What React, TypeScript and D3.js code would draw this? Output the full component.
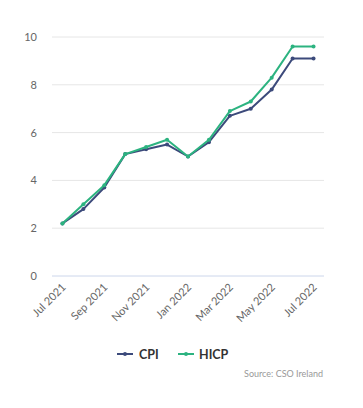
import React from 'react';
import * as d3 from 'd3';

const months = ['Jul 2021', 'Aug 2021', 'Sep 2021', 'Oct 2021', 'Nov 2021', 'Dec 2021', 'Jan 2022', 'Feb 2022', 'Mar 2022', 'Apr 2022', 'May 2022', 'Jun 2022', 'Jul 2022'];
const cpi = [2.2, 2.8, 3.7, 5.1, 5.3, 5.5, 5.0, 5.6, 6.7, 7.0, 7.8, 9.1, 9.1];
const hicp = [2.2, 3.0, 3.8, 5.1, 5.4, 5.7, 5.0, 5.7, 6.9, 7.3, 8.3, 9.6, 9.6];
const yTicks = [0, 2, 4, 6, 8, 10];
const xTickLabels = ['Jul 2021', 'Sep 2021', 'Nov 2021', 'Jan 2022', 'Mar 2022', 'May 2022', 'Jul 2022'];

const W = 363;
const H = 408;
const FONT = 'Lato, "Open Sans", sans-serif';

const series = [
  { name: 'CPI', values: cpi, color: '#3c4a7b' },
  { name: 'HICP', values: hicp, color: '#2cb380' },
];

const App: React.FC = () => {
  const left = 52, right = 324, top = 37, bottom = 276;

  // Each category gets an equal band; points sit at band centres
  const x = d3.scalePoint<string>().domain(months).range([left, right]).padding(0.5);
  const y = d3.scaleLinear().domain([0, 10]).range([bottom, top]);

  const line = d3.line<number>()
    .x((_, i) => x(months[i])!)
    .y(d => y(d));

  return (
    <svg width={W} height={H} style={{ position: 'absolute', left: 0, top: 0, background: '#fff' }}>
      {yTicks.map(t => (
        <g key={t}>
          <line x1={left} x2={right} y1={y(t)} y2={y(t)} stroke={t === 0 ? '#ccd6eb' : '#e6e6e6'} strokeWidth={1} />
          <text x={37} y={y(t) + 4} textAnchor="end" fontFamily={FONT} fontSize={11} fill="#666">{t}</text>
        </g>
      ))}

      {xTickLabels.map(m => {
        const px = x(m)!;
        return (
          <text
            key={m}
            transform={`translate(${px + 4},${bottom + 12}) rotate(-45)`}
            textAnchor="end"
            fontFamily={FONT}
            fontSize={11}
            fill="#666"
          >{m}</text>
        );
      })}

      {series.map(s => (
        <g key={s.name}>
          <path d={line(s.values)!} fill="none" stroke={s.color} strokeWidth={2} strokeLinejoin="round" />
          {s.values.map((v, i) => (
            <circle key={i} cx={x(months[i])!} cy={y(v)} r={2} fill={s.color} />
          ))}
        </g>
      ))}

      {/* legend */}
      <g fontFamily={FONT} fontSize={12.5} fontWeight="bold" fill="#333">
        <line x1={117} x2={133} y1={354} y2={354} stroke={series[0].color} strokeWidth={2} />
        <circle cx={125} cy={354} r={2} fill={series[0].color} />
        <text x={139} y={358.5}>CPI</text>
        <line x1={178} x2={194} y1={354} y2={354} stroke={series[1].color} strokeWidth={2} />
        <circle cx={186} cy={354} r={2} fill={series[1].color} />
        <text x={199} y={358.5}>HICP</text>
      </g>

      <text x={323} y={377} textAnchor="end" fontFamily={FONT} fontSize={9} fill="#999">Source: CSO Ireland</text>
    </svg>
  );
};

export default App;
